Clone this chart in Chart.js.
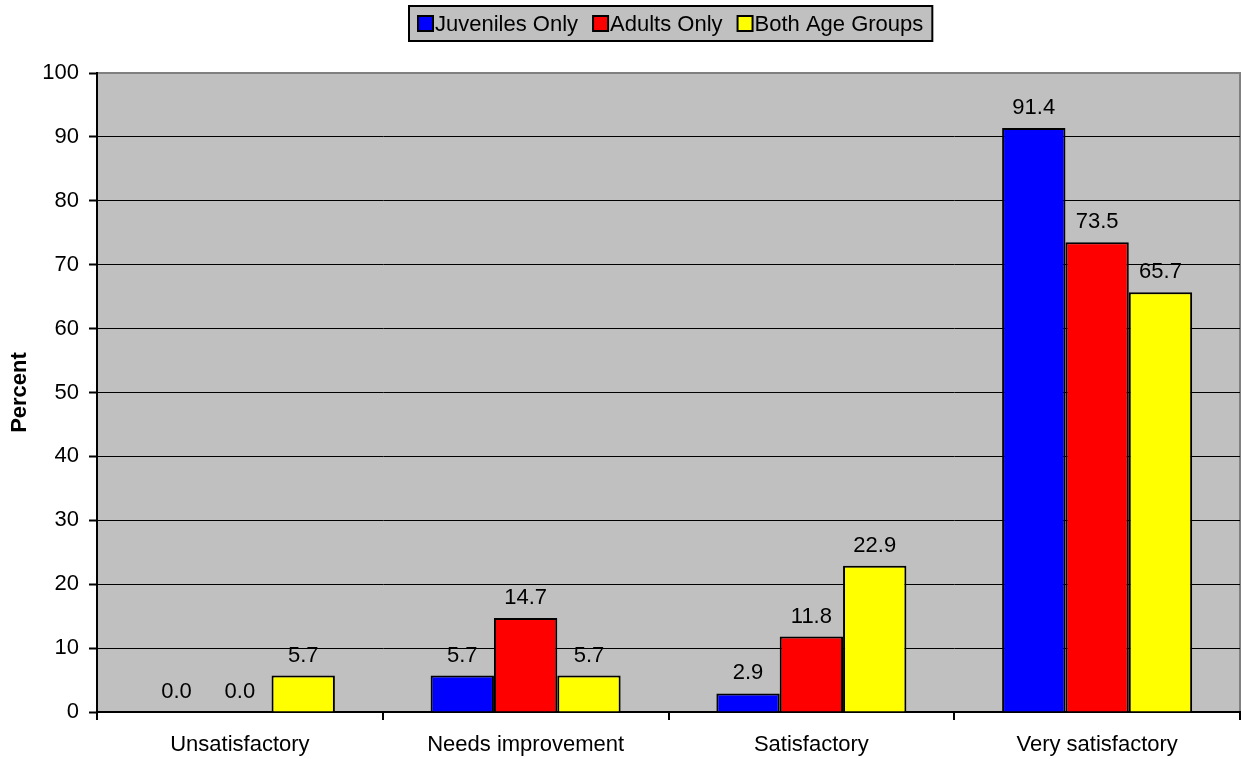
<!DOCTYPE html>
<html>
<head>
<meta charset="utf-8">
<title>Satisfaction ratings</title>
<script src="https://cdn.jsdelivr.net/npm/chart.js@4/dist/chart.umd.min.js"></script>
<style>
  body { margin: 0; background: #fff; }
  #chart { display: block; }
</style>
</head>
<body>
<canvas id="chart" width="1241" height="759"></canvas>
<script>
const categories = ['Unsatisfactory', 'Needs improvement', 'Satisfactory', 'Very satisfactory'];
const juveniles = [0.0, 5.7, 2.9, 91.4];
const adults = [0.0, 14.7, 11.8, 73.5];
const bothGroups = [5.7, 5.7, 22.9, 65.7];
const seriesNames = ['Juveniles Only', 'Adults Only', 'Both Age Groups'];
const yTicks = [0, 10, 20, 30, 40, 50, 60, 70, 80, 90, 100];

const FONT = "'Liberation Sans', Arial, sans-serif";
const FONT_SIZE = 22;

// gray plot background plus the gray top/right frame
const plotBackground = {
    id: 'plotBackground',
    beforeDraw(chart) {
        const { ctx, chartArea: a } = chart;
        ctx.save();
        ctx.fillStyle = '#C0C0C0';
        ctx.fillRect(a.left, a.top, a.right - a.left, a.bottom - a.top);
        ctx.strokeStyle = '#808080';
        ctx.lineWidth = 2;
        ctx.beginPath();
        ctx.moveTo(a.left, a.top);
        ctx.lineTo(a.right, a.top);
        ctx.lineTo(a.right, a.bottom);
        ctx.stroke();
        ctx.restore();
    }
};

// value labels above each bar
const valueLabels = {
    id: 'valueLabels',
    afterDatasetsDraw(chart) {
        const { ctx } = chart;
        ctx.save();
        ctx.font = FONT_SIZE + 'px ' + FONT;
        ctx.fillStyle = '#000';
        ctx.textAlign = 'center';
        ctx.textBaseline = 'alphabetic';
        chart.data.datasets.forEach((ds, i) => {
            chart.getDatasetMeta(i).data.forEach((bar, j) => {
                ctx.fillText(ds.data[j].toFixed(1), bar.x, bar.y - 14);
            });
        });
        ctx.restore();
    }
};

// boxed legend at the top
const boxLegend = {
    id: 'boxLegend',
    afterDraw(chart) {
        const { ctx } = chart;
        ctx.save();
        ctx.font = FONT_SIZE + 'px ' + FONT;
        ctx.textBaseline = 'middle';
        const sw = 15, gapBox = 2, gapItem = 15, padX = 9;
        const items = chart.data.datasets.map(ds => ({
            label: ds.label, color: ds.backgroundColor, w: ctx.measureText(ds.label).width
        }));
        let total = padX * 2;
        items.forEach((it, i) => { total += sw + gapBox + it.w + (i < items.length - 1 ? gapItem : 0); });
        const boxH = 35, top = 6;
        const left = Math.round(671 - total / 2);
        ctx.fillStyle = '#C0C0C0';
        ctx.fillRect(left, top, total, boxH);
        ctx.strokeStyle = '#000';
        ctx.lineWidth = 2;
        ctx.strokeRect(left, top, total, boxH);
        const cy = top + boxH / 2;
        let x = left + padX;
        items.forEach(it => {
            ctx.fillStyle = it.color;
            ctx.fillRect(x, cy - sw / 2, sw, sw);
            ctx.lineWidth = 2;
            ctx.strokeRect(x, cy - sw / 2, sw, sw);
            x += sw + gapBox;
            ctx.fillStyle = '#000';
            ctx.fillText(it.label, x, cy + 1);
            x += it.w + gapItem;
        });
        ctx.restore();
    }
};

const ctx = document.getElementById('chart').getContext('2d');
new Chart(ctx, {
    type: 'bar',
    data: {
        labels: categories,
        datasets: [
            { label: seriesNames[0], data: juveniles, backgroundColor: '#0000FF' },
            { label: seriesNames[1], data: adults, backgroundColor: '#FF0000' },
            { label: seriesNames[2], data: bothGroups, backgroundColor: '#FFFF00' }
        ]
    },
    options: {
        responsive: false,
        animation: false,
        layout: { padding: { top: 73, right: 1, left: 0, bottom: 0 } },
        datasets: {
            bar: {
                borderColor: '#000',
                borderWidth: 2,
                borderSkipped: 'start',
                barPercentage: 1.0,
                categoryPercentage: 0.665
            }
        },
        plugins: {
            legend: { display: false },
            tooltip: { enabled: false }
        },
        scales: {
            x: {
                afterFit(scale) { scale.height = 47; },
                grid: {
                    offset: true,
                    drawOnChartArea: false,
                    color: '#000',
                    lineWidth: 2,
                    tickLength: 8
                },
                border: { color: '#000', width: 2 },
                ticks: {
                    color: '#000',
                    font: { family: FONT, size: FONT_SIZE },
                    padding: 12,
                    maxRotation: 0
                }
            },
            y: {
                min: 0,
                max: 100,
                afterFit(scale) { scale.width = 97; },
                afterBuildTicks(scale) { scale.ticks = yTicks.map(v => ({ value: v })); },
                grid: {
                    color: c => (c.tick && c.tick.value === 100 ? '#808080' : '#000'),
                    lineWidth: 1,
                    tickLength: 8,
                    tickColor: '#000',
                    tickWidth: 2
                },
                border: { color: '#000', width: 2 },
                ticks: {
                    color: '#000',
                    font: { family: FONT, size: FONT_SIZE },
                    padding: 10
                },
                title: {
                    display: true,
                    text: 'Percent',
                    color: '#000',
                    font: { family: FONT, size: FONT_SIZE, weight: 'bold' },
                    padding: { top: 7, bottom: 0 }
                }
            }
        }
    },
    plugins: [plotBackground, valueLabels, boxLegend]
});
</script>
</body>
</html>
